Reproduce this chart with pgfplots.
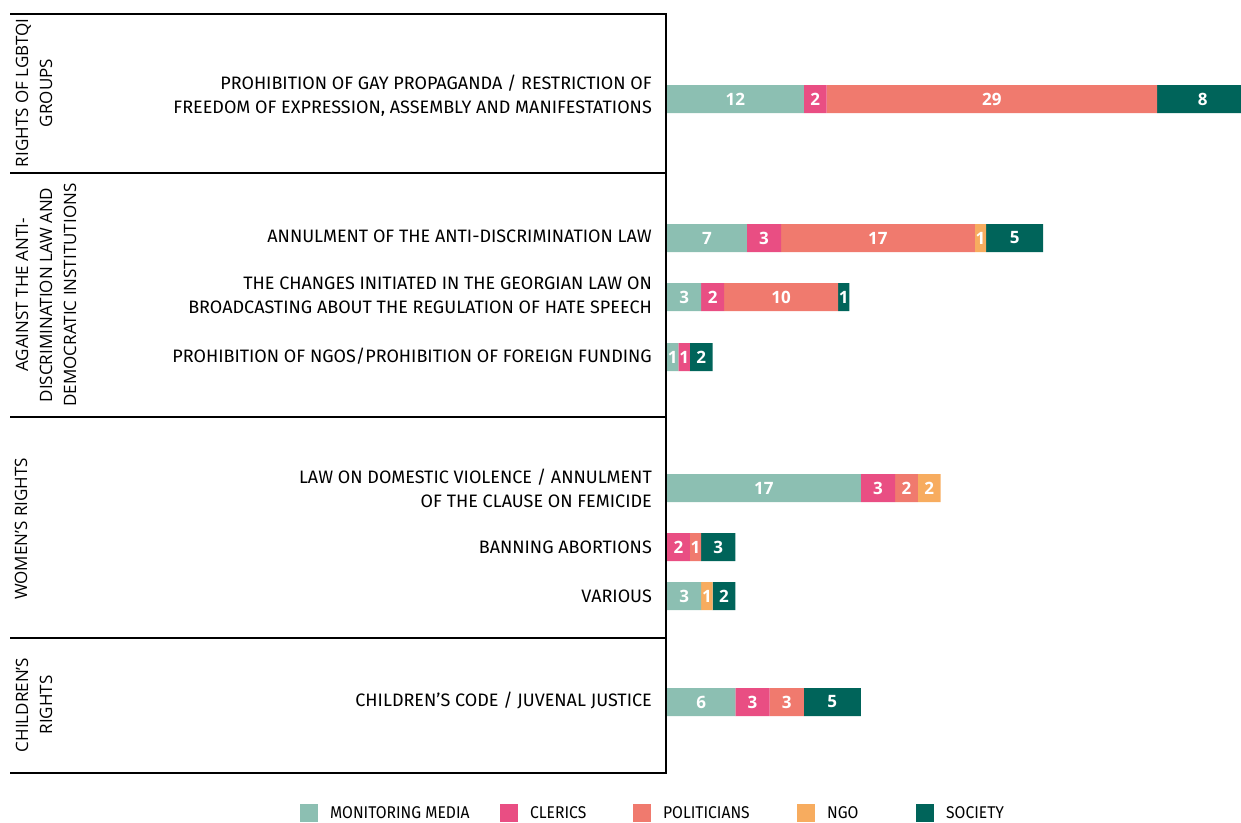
\documentclass[border=0pt]{standalone}
\usepackage{pgfplots}
\usepackage{pgfplotstable}
\pgfplotsset{compat=1.18}
\usepackage{fontspec}
\setmainfont{Fira Sans}
\newfontfamily\grpfont{Open Sans}
\newfontfamily\legfont[FakeStretch=0.92]{Fira Sans}
\definecolor{cmm}{HTML}{8CBFB2}
\definecolor{ccl}{HTML}{E94E83}
\definecolor{cpo}{HTML}{F07A6E}
\definecolor{cngo}{HTML}{F7AC5F}
\definecolor{cso}{HTML}{00645A}

% y = row position (pixels from top, negative)
\pgfplotstableread{
y    mm cl po ngo so
-99  12 2  29 0  8
-238 7  3  17 1  5
-297 3  2  10 0  1
-357 1  1  0  0  2
-488 17 3  2  2  0
-547 0  2  1  0  3
-596 3  0  0  1  2
-702 6  3  3  0  5
}\data

\begin{document}
\begin{tikzpicture}[x=1pt,y=1pt]
\path[use as bounding box] (0,0) rectangle (1241,-822);

\begin{axis}[
  at={(667pt,-14pt)}, anchor=north west,
  scale only axis, width=581.4pt, height=759pt,
  xmin=0, xmax=51, ymin=-773, ymax=-14,
  hide axis,
  xbar stacked, bar width=28pt,
  every axis plot/.append style={draw=none},
  visualization depends on=rawx\as\rawx,
  nodes near coords={\grpfont\bfseries\fontsize{17}{17}\selectfont
    \ifdim\rawx pt>0pt\pgfmathtruncatemacro\v{\rawx}\v\fi},
  every node near coord/.append style={anchor=center, text=white, inner sep=0pt},
  legend columns=5,
  legend image code/.code={\fill[#1] (0pt,-9pt) rectangle (18pt,9pt); \path (30pt,0pt);},
  legend style={at={(axis description cs:-0.6313,-0.053)}, anchor=west,
    draw=none, fill=none, inner sep=0pt,
    nodes={inner sep=0pt, anchor=west},
    font=\legfont\fontsize{17}{17}\selectfont},
]
\addplot[fill=cmm] table[x=mm,y=y]{\data};
\addlegendentry{\makebox[170pt][l]{MONITORING MEDIA}}
\addplot[fill=ccl] table[x=cl,y=y]{\data};
\addlegendentry{\makebox[103pt][l]{CLERICS}}
\addplot[fill=cpo] table[x=po,y=y]{\data};
\addlegendentry{\makebox[134pt][l]{POLITICIANS}}
\addplot[fill=cngo] table[x=ngo,y=y]{\data};
\addlegendentry{\makebox[89pt][l]{NGO}}
\addplot[fill=cso] table[x=so,y=y]{\data};
\addlegendentry{SOCIETY}
\end{axis}

% frame of the left panel
\draw[line width=2.5pt] (10,-14) -- (666,-14) -- (666,-773) -- (10,-773);
\draw[line width=2.5pt] (10,-173) -- (666,-173);
\draw[line width=2.5pt] (10,-417) -- (666,-417);
\draw[line width=2.5pt] (10,-638) -- (666,-638);

% group labels
\begin{scope}[every node/.style={rotate=90, align=center, inner sep=0pt,
    font=\grpfont\fontsize{17}{24}\selectfont}]
\node at (34,-93) {RIGHTS OF LGBTQI\\GROUPS};
\node at (46,-295) {AGAINST THE ANTI-\\DISCRIMINATION LAW AND\\DEMOCRATIC INSTITUTIONS};
\node at (21,-529) {WOMEN’S RIGHTS};
\node at (34,-705) {CHILDREN’S\\RIGHTS};
\end{scope}

% category labels
\begin{scope}[every node/.style={anchor=east, align=right, inner sep=0pt,
    font=\fontsize{18}{24}\selectfont}]
\node at (652,-96) {PROHIBITION OF GAY PROPAGANDA / RESTRICTION OF\\FREEDOM OF EXPRESSION, ASSEMBLY AND MANIFESTATIONS};
\node at (652,-236) {ANNULMENT OF THE ANTI-DISCRIMINATION LAW};
\node at (652,-295) {THE CHANGES INITIATED IN THE GEORGIAN LAW ON\\BROADCASTING ABOUT THE REGULATION OF HATE SPEECH};
\node at (652,-356) {PROHIBITION OF NGOS/PROHIBITION OF FOREIGN FUNDING};
\node at (652,-488) {LAW ON DOMESTIC VIOLENCE / ANNULMENT\\OF THE CLAUSE ON FEMICIDE};
\node at (652,-547) {BANNING ABORTIONS};
\node at (652,-596) {VARIOUS};
\node at (652,-700) {CHILDREN’S CODE / JUVENAL JUSTICE};
\end{scope}
\end{tikzpicture}
\end{document}
